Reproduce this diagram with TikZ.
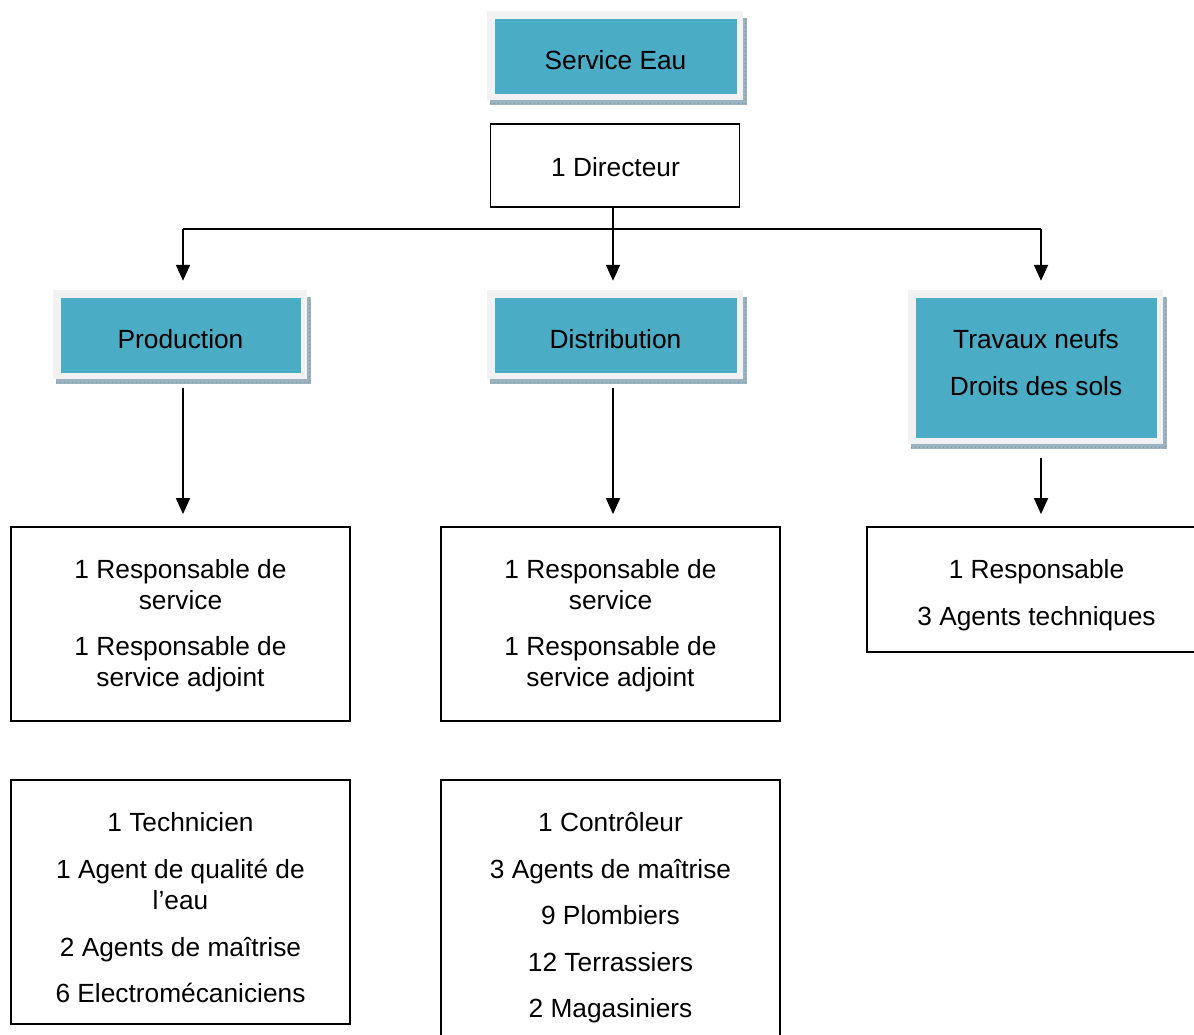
\documentclass[tikz,border=0pt]{standalone}
\usepackage{fontspec}
\setmainfont{Liberation Sans}
\usetikzlibrary{arrows.meta,backgrounds}
\definecolor{tealc}{HTML}{4BACC6}
\definecolor{framec}{HTML}{F2F2F2}
\definecolor{shadowc}{RGB}{155,178,192}
\definecolor{shadowd}{RGB}{120,148,165}
\tikzset{
  txt/.style={font=\fontsize{26.3}{31}\selectfont, align=center, inner sep=0pt},
  tealbox/.style={fill=tealc, inner sep=0pt},
  wbox/.style={draw=black, line width=1.8pt, fill=white, inner sep=0pt},
  conn/.style={line width=1.8pt, draw=black},
  arr/.style={conn, -{Triangle[width=14pt,length=16pt]}},
}
\newcommand{\tealdeco}[1]{%
  \fill[shadowc] ([shift={(-5pt,1pt)}]#1.north west) rectangle ([shift={(10pt,-11pt)}]#1.south east);
  \draw[shadowd, line width=0.6pt, dash pattern=on 1pt off 3pt] ([shift={(-5pt,-9.5pt)}]#1.south west) -- ([shift={(8.5pt,-9.5pt)}]#1.south east) -- ([shift={(8.5pt,1pt)}]#1.north east);
  \fill[framec] ([shift={(-8pt,8pt)}]#1.north west) rectangle ([shift={(6pt,-6pt)}]#1.south east);
}
\begin{document}
\begin{tikzpicture}[x=1pt,y=-1pt]
\useasboundingbox (0,0) rectangle (1194,1034);
\clip (0,0) rectangle (1194,1034);

% teal boxes
\node[tealbox, minimum width=242pt, minimum height=75pt] (se) at (616,56.5) {};
\node[tealbox, minimum width=240pt, minimum height=75pt] (prod) at (181,335.5) {};
\node[tealbox, minimum width=242pt, minimum height=75pt] (dist) at (616,335.5) {};
\node[tealbox, minimum width=241pt, minimum height=140pt] (trav) at (1036.5,368) {};
\begin{scope}[on background layer]
  \fill[white] (0,0) rectangle (1194,1034);
  \tealdeco{se}
  \tealdeco{prod}
  \tealdeco{dist}
  \tealdeco{trav}
\end{scope}
\node[txt] (se-t) at (615.5,60) {Service Eau};
\node[txt] (prod-t) at (180.5,339) {Production};
\node[txt] (dist-t) at (615.5,339) {Distribution};
\node[txt] (trav-t) at (1036,362.5) {Travaux neufs\\[16pt]Droits des sols};

% directeur
\node[wbox, minimum width=249pt, minimum height=83pt] (dir) at (615,165.5) {};
\node[txt] (dir-t) at (615.5,167) {1 Directeur};

% white boxes
\node[wbox, minimum width=339pt, minimum height=194pt] (b1) at (180.5,624) {};
\node[wbox, minimum width=339pt, minimum height=194pt] (b2) at (610.5,624) {};
\node[wbox, minimum width=343pt, minimum height=125pt] (b3) at (1038.5,589.5) {};
\node[wbox, minimum width=339pt, minimum height=244pt] (b4) at (180.5,902) {};
\node[wbox, minimum width=339pt, minimum height=270pt] (b5) at (610.5,915) {};

\node[txt] (t1) at (180.5,625.6) {1 Responsable de\\service\\[15pt]1 Responsable de\\service adjoint};
\node[txt] (t2) at (610.5,625.6) {1 Responsable de\\service\\[15pt]1 Responsable de\\service adjoint};
\node[txt] (t3) at (1036.5,595) {1 Responsable\\[16pt]3 Agents techniques};
\node[txt] (t4) at (180.5,907.2) {1 Technicien\\[16pt]1 Agent de qualité de\\l’eau\\[16pt]2 Agents de maîtrise\\[15pt]6 Electromécaniciens};
\node[txt] (t5) at (610.5,917.6) {1 Contrôleur\\[16pt]3 Agents de maîtrise\\[15pt]9 Plombiers\\[16pt]12 Terrassiers\\[15pt]2 Magasiniers};

% connectors
\coordinate (jm) at (613,229);
\coordinate (jp) at (183,229);
\coordinate (jt) at (1041,229);
\draw[conn] (dir.south -| jm) -- (jm);
\draw[conn] (jp) -- (jt);
\draw[arr, shorten >=17pt] (jp) -- (prod.north -| jp);
\draw[arr, shorten >=17pt] (jm) -- (dist.north -| jm);
\draw[arr, shorten >=17pt] (jt) -- (trav.north -| jt);

\coordinate (dp) at (183,388);
\coordinate (dd) at (613,388);
\coordinate (dt) at (1041,458);
\draw[arr, shorten >=12pt] (dp) -- (b1.north -| dp);
\draw[arr, shorten >=12pt] (dd) -- (b2.north -| dd);
\draw[arr, shorten >=12pt] (dt) -- (b3.north -| dt);
\end{tikzpicture}
\end{document}
